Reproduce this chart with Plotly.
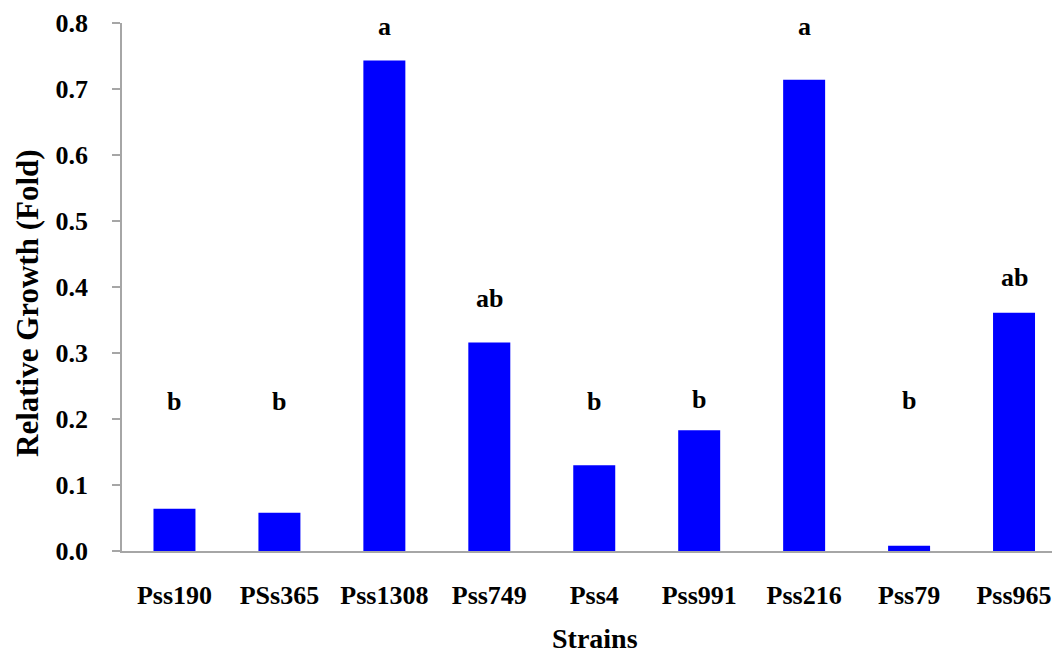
import plotly.graph_objects as go

strains = ["Pss190", "PSs365", "Pss1308", "Pss749", "Pss4", "Pss991", "Pss216", "Pss79", "Pss965"]
growth = [0.064, 0.058, 0.743, 0.316, 0.130, 0.183, 0.714, 0.008, 0.361]
letters = ["b", "b", "a", "ab", "b", "b", "a", "b", "ab"]
letter_y = [0.226, 0.226, 0.795, 0.382, 0.227, 0.229, 0.795, 0.228, 0.415]
y_ticks = [0.0, 0.1, 0.2, 0.3, 0.4, 0.5, 0.6, 0.7, 0.8]
y_tick_text = ["0.0", "0.1", "0.2", "0.3", "0.4", "0.5", "0.6", "0.7", "0.8"]
x_title = "Strains"
y_title = "Relative Growth (Fold)"

FONT = "Liberation Serif"

fig = go.Figure()
fig.add_trace(go.Bar(x=strains, y=growth, marker=dict(color="#0000FF", line=dict(width=0)),
                     width=0.4, showlegend=False))

for s, l, ly in zip(strains, letters, letter_y):
    fig.add_annotation(x=s, y=ly, text="<b>%s</b>" % l, showarrow=False,
                       font=dict(family=FONT, size=26, color="black"),
                       xanchor="center", yanchor="middle")

# axis titles
fig.add_annotation(xref="paper", yref="paper", x=-0.1002, y=0.4697,
                   text="<b>%s</b>" % y_title, textangle=-90, showarrow=False,
                   font=dict(family=FONT, size=31, color="black"),
                   xanchor="center", yanchor="middle")
fig.add_annotation(xref="paper", yref="paper", x=0.5043, y=-0.1648,
                   text="<b>%s</b>" % x_title, showarrow=False,
                   font=dict(family=FONT, size=28, color="black"),
                   xanchor="center", yanchor="middle", borderpad=0)

fig.update_layout(
    template="none",
    width=1052, height=647,
    margin=dict(l=114, r=0, t=15, b=104, autoexpand=False),
    plot_bgcolor="white", paper_bgcolor="white",
    font=dict(family=FONT, color="black"),
)
fig.update_xaxes(
    automargin=False,
    range=[-0.5, 8.438],
    showline=True, linecolor="#a6a6a6", linewidth=1.5,
    ticks="", showgrid=False, zeroline=False,
    tickfont=dict(family=FONT, size=26, color="black"),
    ticklabelstandoff=20,
    tickprefix="<b>", ticksuffix="</b>",
)
fig.update_yaxes(
    automargin=False,
    range=[0, 0.8],
    tickvals=y_ticks, ticktext=["<b>%s</b>" % t for t in y_tick_text],
    showline=True, linecolor="#a6a6a6", linewidth=1.5,
    ticks="outside", ticklen=8, tickcolor="#a6a6a6", tickwidth=1.5,
    showgrid=False, zeroline=False,
    tickfont=dict(family=FONT, size=26, color="black"),
    ticklabelstandoff=19,
)

fig.write_html("out.html")
